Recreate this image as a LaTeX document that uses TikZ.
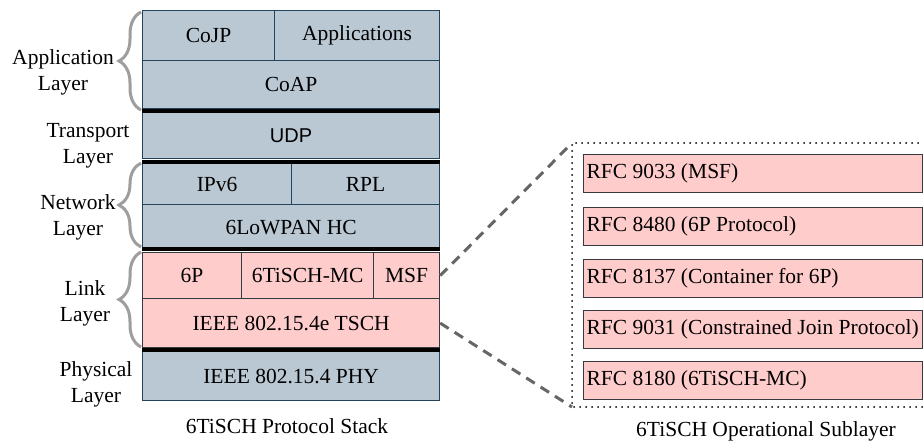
\documentclass[tikz,border=0pt]{standalone}
\usepackage{fontspec}
\setmainfont{Liberation Serif}
\setsansfont{Liberation Sans}
\usetikzlibrary{decorations.pathreplacing}
\definecolor{stackfill}{HTML}{BAC8D3}
\definecolor{stackline}{HTML}{23445D}
\definecolor{pinkfill}{HTML}{FFCCCC}
\definecolor{pinkline}{HTML}{36393D}
\definecolor{braceclr}{HTML}{9E9E9E}
\definecolor{dashclr}{HTML}{666666}
\newcommand{\rfctext}[1]{\makebox[333pt][l]{#1}}
\tikzset{
  every node/.style={font=\rmfamily\fontsize{21.5}{26}\selectfont},
  bluebox/.style={draw=stackline, fill=stackfill, line width=1.2pt, inner sep=0pt, anchor=north west},
  pinkbox/.style={draw=pinkline, fill=pinkfill, line width=1.2pt, inner sep=0pt, anchor=north west},
  rfcbox/.style={draw=pinkline, fill=pinkfill, line width=1.2pt, inner ysep=0pt, inner xsep=3pt,
    anchor=north west, minimum width=339pt, minimum height=38pt},
  sepline/.style={line width=4pt, black},
  layerlabel/.style={align=center, inner sep=0pt},
  layerbrace/.style={decorate, decoration={brace, amplitude=22pt}, line width=3pt, braceclr},
  zoomline/.style={dashclr, line width=3pt, dash pattern=on 10pt off 7pt},
  frameline/.style={black, line width=2pt, line cap=round, dash pattern=on 0pt off 6pt},
  caption/.style={inner sep=0pt}
}
\begin{document}
\begin{tikzpicture}[x=1pt, y=-1pt]
\useasboundingbox[fill=white] (0,0) rectangle (923,441);

% protocol stack
\node[bluebox, minimum width=132pt, minimum height=50pt] (cojp) at (142,10) {CoJP};
\node[bluebox, minimum width=165pt, minimum height=50pt] (apps) at (274,10) {Applications};
\node[bluebox, minimum width=297pt, minimum height=48pt] (coap) at (142,60) {CoAP};
\node[bluebox, minimum width=297pt, minimum height=46pt, font=\sffamily\fontsize{20}{24}\selectfont] (udp) at (142,112) {UDP};
\node[bluebox, minimum width=149pt, minimum height=41pt] (ipv6) at (142,163) {IPv6};
\node[bluebox, minimum width=148pt, minimum height=41pt] (rpl) at (291,163) {RPL};
\node[bluebox, minimum width=297pt, minimum height=45pt] (lowpan) at (142,204) {6LoWPAN HC};
\node[pinkbox, minimum width=99pt, minimum height=46pt] (sixp) at (142,252) {6P};
\node[pinkbox, minimum width=132pt, minimum height=46pt] (mc) at (241,252) {6TiSCH-MC};
\node[pinkbox, minimum width=66pt, minimum height=46pt] (msf) at (373,252) {MSF};
\node[pinkbox, minimum width=297pt, minimum height=49pt] (tsch) at (142,298) {IEEE 802.15.4e TSCH};
\node[bluebox, minimum width=297pt, minimum height=49pt] (phy) at (142,351) {IEEE 802.15.4 PHY};

% thick separators
\draw[sepline] ([yshift=-2pt]coap.south west) -- ([yshift=-2pt]coap.south east);
\draw[sepline] ([yshift=-2.5pt]udp.south west) -- ([yshift=-2.5pt]udp.south east);
\draw[sepline] ([yshift=1pt]lowpan.south west) -- ([yshift=1pt]lowpan.south east);
\draw[sepline] ([yshift=-2pt]tsch.south west) -- ([yshift=-2pt]tsch.south east);

% braces
\coordinate (appb) at (141,110);
\coordinate (appt) at (141,12);
\coordinate (netb) at (141,247);
\coordinate (nett) at (141,163);
\coordinate (linkb) at (141,347);
\coordinate (linkt) at (141,252);
\draw[layerbrace] (appb) -- (appt);
\draw[layerbrace] (netb) -- (nett);
\draw[layerbrace] (linkb) -- (linkt);

% layer labels
\node[layerlabel] (lapp) at (63,72) {Application\\Layer};
\node[layerlabel] (ltrans) at (88,146) {Transport\\Layer};
\node[layerlabel] (lnet) at (78,217) {Network\\Layer};
\node[layerlabel] (llink) at (85,303) {Link\\Layer};
\node[layerlabel] (lphy) at (96,384) {Physical\\Layer};

\node[caption] (cap1) at (287,426) {6TiSCH Protocol Stack};

% operational sublayer
\coordinate (subtl) at (572,143);
\coordinate (subbl) at (572,407);
\coordinate (subtr) at (930,143);
\coordinate (subbr) at (930,407);
\draw[frameline] (subtr) -- (subtl) -- (subbl) -- (subbr);

\node[rfcbox] (r1) at (583,154) {\rfctext{RFC 9033 (MSF)}};
\node[rfcbox] (r2) at (583,207) {\rfctext{RFC 8480 (6P Protocol)}};
\node[rfcbox] (r3) at (583,259) {\rfctext{RFC 8137 (Container for 6P)}};
\node[rfcbox] (r4) at (583,310) {\rfctext{RFC 9031 (Constrained Join Protocol)}};
\node[rfcbox] (r5) at (583,361) {\rfctext{RFC 8180 (6TiSCH-MC)}};

\node[caption] (cap2) at (766,431) {6TiSCH Operational Sublayer};

% zoom connectors
\draw[zoomline] (msf.east) -- (subtl);
\draw[zoomline] (tsch.east) -- (subbl);
\end{tikzpicture}
\end{document}
